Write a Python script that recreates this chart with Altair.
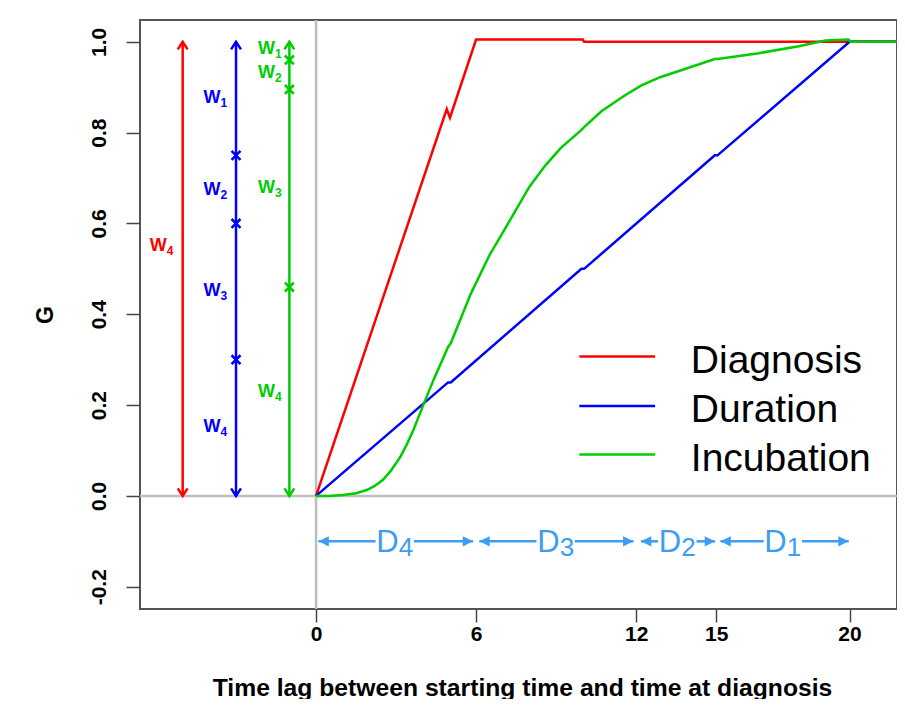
import altair as alt
import pandas as pd

# ---------------- data ----------------
series = ["Diagnosis", "Duration", "Incubation"]
colors = ["#FF0000", "#0000FF", "#00CD00"]

diag_x = [0, 4.9, 5.02, 6, 10, 10.05, 22]
diag_y = [0, 0.852, 0.833, 1.005, 1.005, 1.0, 1.0]

dur_x = [0, 4.95, 5.05, 9.95, 10.05, 14.95, 15.05, 20, 22]
dur_y = [0, 0.25, 0.25, 0.5, 0.5, 0.75, 0.75, 1.0, 1.0]

inc_x = [0, 0.5, 1.0, 1.5, 1.9, 2.2, 2.5, 2.8, 3.15, 3.4, 3.65, 4.02, 4.4, 4.95, 5.05,
         5.8, 6.5, 7.3, 8.0, 8.6, 9.17, 9.95, 10.05, 10.7, 11.6, 12.2, 12.9, 14.95,
         15.05, 16.6, 18.1, 19.1, 19.95, 20.05, 22]
inc_y = [0, 0, 0.002, 0.006, 0.013, 0.022, 0.035, 0.055, 0.085, 0.113, 0.145, 0.2,
         0.255, 0.328, 0.336, 0.445, 0.53, 0.61, 0.681, 0.728, 0.766, 0.806, 0.812,
         0.847, 0.883, 0.904, 0.922, 0.962, 0.962, 0.975, 0.99, 1.003, 1.005, 1.0, 1.0]

# W arrows (left part)
w_series = ["Diagnosis", "Duration", "Incubation"]
w_x = [-5, -3, -1]
w_low = [0, 0, 0]
w_high = [1, 1, 1]

split_series = ["Duration", "Duration", "Duration", "Incubation", "Incubation", "Incubation"]
split_x = [-3, -3, -3, -1, -1, -1]
split_y = [0.75, 0.6, 0.3, 0.96, 0.895, 0.46]

wlab_series = ["Diagnosis", "Duration", "Duration", "Duration", "Duration",
               "Incubation", "Incubation", "Incubation", "Incubation"]
wlab_x = [-5.92, -3.9, -3.9, -3.9, -3.9, -1.86, -1.86, -1.86, -1.86]
wlab_y = [0.553, 0.878, 0.676, 0.454, 0.153, 0.987, 0.933, 0.681, 0.231]
wlab_sub = ["4", "1", "2", "3", "4", "1", "2", "3", "4"]

# D intervals (bottom part)
d_start = [0.09, 6.12, 12.18, 15.16]
d_end = [5.89, 11.9, 14.96, 19.97]
d_center = [2.95, 8.985, 13.545, 17.5]
d_sub = ["4", "3", "2", "1"]
d_level = -0.1

x_ticks = [0, 6, 12, 15, 20]
y_ticks = [-0.2, 0.0, 0.2, 0.4, 0.6, 0.8, 1.0]

# ---------------- layout / style constants ----------------
FONT = "Liberation Sans"
DCOL = "#3D9DF5"
GAP = 0.72          # half width of D label gap in x units
LEG_X0, LEG_X1, LEG_TX = 9.87, 12.71, 14.05
LEG_Y = [0.307, 0.198, 0.091]

xs = alt.Scale(domain=[-6.6, 21.78], nice=False, zero=False)
ys = alt.Scale(domain=[-0.249, 1.048], nice=False, zero=False)
cs = alt.Scale(domain=series, range=colors)

# ---------------- tables ----------------
rows = []
for s, xv, yv in zip(series, [diag_x, dur_x, inc_x], [diag_y, dur_y, inc_y]):
    for i, (a, b) in enumerate(zip(xv, yv)):
        rows.append({"series": s, "x": a, "y": b, "i": i})
curves = pd.DataFrame(rows)

warrows = pd.DataFrame({"series": w_series, "x": w_x, "y0": w_low, "y1": w_high})
splits = pd.DataFrame({"series": split_series, "x": split_x, "y": split_y})
wlabs = pd.DataFrame({"series": wlab_series, "x": wlab_x, "y": wlab_y,
                      "w": ["W"] * len(wlab_x), "sub": wlab_sub})

dseg = pd.DataFrame({
    "x": d_start + [c + GAP for c in d_center],
    "x2": [c - GAP for c in d_center] + d_end,
    "y": [d_level] * 8,
})
dstart = pd.DataFrame({"x": d_start, "y": [d_level] * 4})
dend = pd.DataFrame({"x": d_end, "y": [d_level] * 4})
dlabs = pd.DataFrame({"x": d_center, "y": [d_level] * 4, "d": ["D"] * 4, "sub": d_sub})

legend = pd.DataFrame({"series": series, "x": [LEG_X0] * 3, "x1": [LEG_X1] * 3,
                       "tx": [LEG_TX] * 3, "y": LEG_Y})

ref = pd.DataFrame({"x": [0], "y": [0]})

# ---------------- axes ----------------
xaxis = alt.Axis(values=x_ticks, format="d", grid=False, domain=False,
                 title="Time lag between starting time and time at diagnosis",
                 labelFontSize=21, labelFontWeight="bold", labelColor="black",
                 labelPadding=1, labelBaseline="top", tickSize=13, tickColor="#444",
                 tickWidth=1.5, titleFontSize=24.7, titleFontWeight="bold",
                 titleColor="black", titleX=382, titleY=86, titleBaseline="alphabetic",
                 titleAlign="center")
yaxis = alt.Axis(values=y_ticks, grid=False, domain=False, title="G",
                 labelExpr="replace(format(datum.value, '.1f'), '\u2212', '-')",
                 labelAngle=270, labelAlign="center", labelBaseline="alphabetic",
                 labelFontSize=21, labelFontWeight="bold", labelColor="black",
                 labelPadding=21, tickSize=14, tickColor="#444", tickWidth=1.5,
                 titleAngle=270, titleX=-88, titleY=294.5, titleAlign="center",
                 titleBaseline="alphabetic", titleFontSize=23, titleFontWeight="bold",
                 titleColor="black")


def X(f="x"):
    return alt.X(f"{f}:Q", scale=xs, axis=xaxis)


def Y(f="y"):
    return alt.Y(f"{f}:Q", scale=ys, axis=yaxis)


C = alt.Color("series:N", scale=cs, legend=None)

# ---------------- layers ----------------
vref = alt.Chart(ref).mark_rule(color="#BEBEBE", strokeWidth=2.5).encode(x=X())
href = alt.Chart(ref).mark_rule(color="#BEBEBE", strokeWidth=2.5).encode(y=Y())

lines = alt.Chart(curves).mark_line(strokeWidth=2.5, clip=True).encode(
    x=X(), y=Y(), color=C, order="i:Q", detail="series:N")

wrule = alt.Chart(warrows).mark_rule(strokeWidth=2.5).encode(
    x=X(), y=Y("y0"), y2="y1:Q", color=C)
whead_up = alt.Chart(warrows).mark_point(
    shape="M-0.65,1L0,0L0.65,1", size=230, filled=False, strokeWidth=2.5, opacity=1
).encode(x=X(), y=Y("y1"), color=C)
whead_dn = alt.Chart(warrows).mark_point(
    shape="M-0.65,-1L0,0L0.65,-1", size=230, filled=False, strokeWidth=2.5, opacity=1
).encode(x=X(), y=Y("y0"), color=C)
wx = alt.Chart(splits).mark_point(
    shape="M-1,-1L1,1M-1,1L1,-1", size=80, filled=False, strokeWidth=2.6, opacity=1
).encode(x=X(), y=Y(), color=C)

wtext = alt.Chart(wlabs).mark_text(font=FONT, fontSize=18, fontWeight="bold",
                                   align="center", baseline="alphabetic", dy=6).encode(
    x=X(), y=Y(), text="w:N", color=C)
wsub = alt.Chart(wlabs).mark_text(font=FONT, fontSize=12, fontWeight="bold",
                                  align="left", baseline="alphabetic", dx=8.5, dy=10).encode(
    x=X(), y=Y(), text="sub:N", color=C)

dline = alt.Chart(dseg).mark_rule(color=DCOL, strokeWidth=2.5).encode(
    x=X(), x2="x2:Q", y=Y())
dh_l = alt.Chart(dstart).mark_point(
    shape="M1.4,-0.7L0,0L1.4,0.7Z", size=220, filled=True, color=DCOL, opacity=1
).encode(x=X(), y=Y())
dh_r = alt.Chart(dend).mark_point(
    shape="M-1.4,-0.7L0,0L-1.4,0.7Z", size=220, filled=True, color=DCOL, opacity=1
).encode(x=X(), y=Y())
dtext = alt.Chart(dlabs).mark_text(font=FONT, fontSize=31, color=DCOL, align="left",
                                   baseline="alphabetic", dx=-18.5, dy=11).encode(
    x=X(), y=Y(), text="d:N")
dsubt = alt.Chart(dlabs).mark_text(font=FONT, fontSize=26, color=DCOL, align="left",
                                   baseline="alphabetic", dx=4, dy=14.5).encode(
    x=X(), y=Y(), text="sub:N")

leg_line = alt.Chart(legend).mark_rule(strokeWidth=2.5).encode(
    x=X(), x2="x1:Q", y=Y(), color=C)
leg_text = alt.Chart(legend).mark_text(font=FONT, fontSize=39, color="black",
                                       align="left", baseline="alphabetic", dy=16).encode(
    x=X("tx"), y=Y(), text="series:N")

chart = alt.layer(
    vref, href, lines, wrule, whead_up, whead_dn, wx, wtext, wsub,
    dline, dh_l, dh_r, dtext, dsubt, leg_line, leg_text
).properties(
    width=757, height=589,
    padding={"left": 132, "top": 12, "right": 0, "bottom": 90},
    autosize=alt.AutoSizeParams(type="none"),
).configure(font=FONT).configure_view(stroke="#555", strokeWidth=2)

chart.save("out.html", embed_options={"renderer": "svg", "actions": False})
